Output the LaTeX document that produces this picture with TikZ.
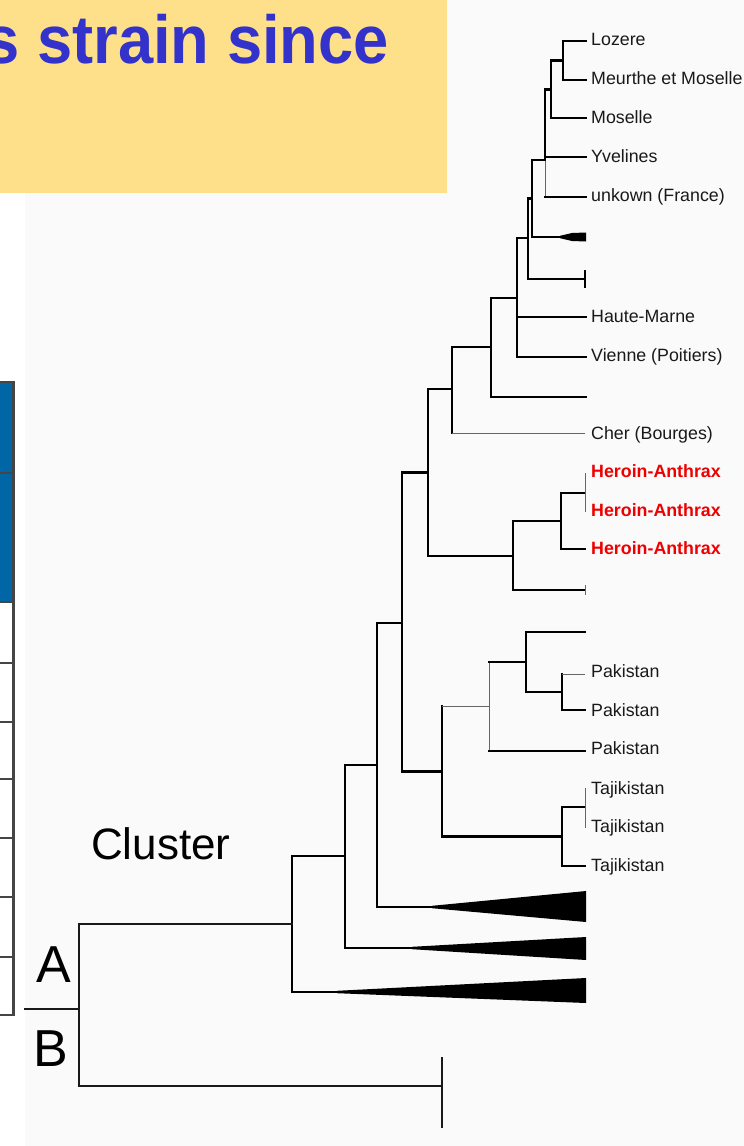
\documentclass[tikz,border=0pt]{standalone}
\usepackage{fontspec}
\setmainfont{Liberation Sans}
\usepackage{graphicx}
\definecolor{titleyellow}{HTML}{FFE08A}
\definecolor{titleblue}{HTML}{3333CC}
\definecolor{tableblue}{HTML}{0066A6}
\definecolor{tableborder}{HTML}{454545}
\definecolor{bgtree}{HTML}{FAFAFA}
\definecolor{heroinred}{HTML}{EE0000}
\begin{document}
\begin{tikzpicture}[x=1pt,y=-1pt,
  branch/.style={line width=2.4pt, black, line cap=rect},
  thinbranch/.style={line width=1pt, black!60},
  rootbranch/.style={line width=1.8pt, black!90, line cap=rect},
  clade/.style={fill=black, draw=none},
  leaflabel/.style={anchor=base west, inner sep=0pt, text=black!90, font=\fontsize{17.8}{20}\selectfont},
  heroin/.style={leaflabel, text=heroinred, font=\fontsize{17.8}{20}\selectfont\bfseries},
  bigletter/.style={anchor=base west, inner sep=0pt, font=\fontsize{52}{56}\selectfont},
  tablerule/.style={line width=2.2pt, tableborder}
]
\clip (0,0) rectangle (744,1146);
\useasboundingbox (0,0) rectangle (744,1146);
% backgrounds
\fill[white] (0,0) rectangle (744,1146);
\fill[bgtree] (25,0) rectangle (744,1146);
\fill[titleyellow] (0,0) rectangle (447,193);
\node[anchor=base east, inner sep=0pt, text=titleblue] (title) at (389,63)
  {\scalebox{0.93}[1]{\fontsize{68}{70}\selectfont\bfseries s strain since}};
% table fragment
\fill[tableblue] (0,382) rectangle (13.5,602);
\foreach \yy in {382,473,602,663,722,779,838,897,957,1015}
  \draw[tablerule] (0,\yy) -- (13.5,\yy);
\draw[tablerule] (13.5,381) -- (13.5,1016);
% ---------- tree coordinates ----------
\coordinate (L1) at (586,41);
\coordinate (L2) at (586,80);
\coordinate (n563) at (563,60.5);
\coordinate (L3) at (586,118);
\coordinate (n551) at (551,89.5);
\coordinate (L4) at (586,157);
\coordinate (L5) at (586,197);
\coordinate (n545) at (545,160);
\coordinate (c1) at (560,237);
\coordinate (n532) at (532,198.5);
\coordinate (k1) at (585,279);
\coordinate (n528) at (528,238);
\coordinate (L6) at (586,317);
\coordinate (L7) at (586,357);
\coordinate (n517) at (517,298);
\coordinate (L8) at (586,397);
\coordinate (n491) at (491,347);
\coordinate (L9) at (585,433);
\coordinate (n452) at (452,389);
\coordinate (h12) at (585,493);
\coordinate (h3) at (585,549);
\coordinate (n561) at (561,521);
\coordinate (k2) at (585,590);
\coordinate (n513) at (513,556);
\coordinate (n428) at (428,472.5);
\coordinate (L10) at (585,632);
\coordinate (p1) at (585,674);
\coordinate (p2) at (585,710);
\coordinate (n562p) at (562,692);
\coordinate (n526) at (526,662);
\coordinate (p3) at (585,751);
\coordinate (n489) at (489,706);
\coordinate (t12) at (585,807);
\coordinate (t3) at (585,866);
\coordinate (n562t) at (562,836.5);
\coordinate (n442) at (442,771.5);
\coordinate (n402) at (402,623);
\coordinate (c3) at (440,907);
\coordinate (n377) at (377,765);
\coordinate (c2) at (420,948);
\coordinate (n345) at (345,856);
\coordinate (c4) at (345,992);
\coordinate (n292) at (292,924);
\coordinate (bleaf) at (442,1086);
\coordinate (root) at (79,1009);
\coordinate (stub) at (25,1009);
% ---------- branches ----------
\draw[branch] (n563) |- (L1) (n563) |- (L2);
\draw[branch] (n551) |- (n563) (n551) |- (L3);
\draw[branch] (n545) |- (n551) (n545) |- (L4);
\draw[thinbranch] (n545) -- (n545|-L5);
\draw[branch] (n545|-L5) -- (L5);
\draw[branch] (n532) |- (n545) (n532) |- (c1);
\fill[clade] ([shift={(0,-1.2)}]c1) -- ([shift={(12,-4)}]c1) -- ([shift={(26,-4.5)}]c1) -- ([shift={(26,4.5)}]c1) -- ([shift={(12,4)}]c1) -- ([shift={(0,1.2)}]c1) -- cycle;
\draw[branch] (n528) |- (n532) (n528) |- (k1);
\draw[line width=1.3pt] ([shift={(0,-9)}]k1) -- ([shift={(0,9)}]k1);
\draw[branch] (n517) |- (n528) (n517) |- (L6) (n517) |- (L7);
\draw[branch] (n491) |- (n517) (n491) |- (L8);
\draw[branch] (n452) |- (n491) (n452) -- (n452|-L9);
\draw[thinbranch] (n452|-L9) -- (L9);
\draw[branch] (n561) |- (h12) (n561) |- (h3);
\draw[thinbranch] ([shift={(0,-20)}]h12) -- ([shift={(0,19)}]h12);
\draw[branch] (n513) |- (n561) (n513) |- (k2);
\draw[thinbranch] ([shift={(0,-5)}]k2) -- ([shift={(0,5)}]k2);
\draw[branch] (n428) |- (n452) (n428) |- (n513);
\draw[branch] (n562p) |- (p2) (n562p) -- (n562p|-p1);
\draw[thinbranch] (n562p|-p1) -- (p1);
\draw[branch] (n526) |- (L10) (n526) |- (n562p);
\draw[thinbranch] (n489|-n526) -- (n489|-p3);
\draw[branch] (n489|-n526) -- (n526) (n489|-p3) -- (p3);
\draw[branch] (n562t) |- (t12) (n562t) |- (t3);
\draw[thinbranch] ([shift={(0,-19)}]t12) -- ([shift={(0,21)}]t12);
\draw[branch] (n442) |- (n562t) (n442) -- (n442|-n489);
\draw[thinbranch] (n442|-n489) -- (n489);
\draw[branch] (n402) |- (n428) (n402) |- (n442);
\draw[branch] (n377) |- (n402) (n377) |- (c3);
\fill[clade] ([shift={(-8,-1.2)}]c3) -- ([shift={(146,-16)}]c3) -- ([shift={(146,15)}]c3) -- ([shift={(-8,1.2)}]c3) -- cycle;
\draw[branch] (n345) |- (n377) (n345) |- (c2);
\fill[clade] ([shift={(-8,-1.2)}]c2) -- ([shift={(166,-11)}]c2) -- ([shift={(166,12)}]c2) -- ([shift={(-8,1.2)}]c2) -- cycle;
\draw[branch] (n292) |- (n345) (n292) |- (c4);
\fill[clade] ([shift={(-8,-1.2)}]c4) -- ([shift={(241,-14)}]c4) -- ([shift={(241,11)}]c4) -- ([shift={(-8,1.2)}]c4) -- cycle;
\draw[rootbranch] (root) |- (n292) (root) |- (bleaf) (stub) -- (root);
\draw[rootbranch] ([shift={(0,-28)}]bleaf) -- ([shift={(0,41)}]bleaf);
% ---------- labels ----------
\node[leaflabel] (lozere) at (591,45.5) {Lozere};
\node[leaflabel] (meurthe) at (591,84) {Meurthe et Moselle};
\node[leaflabel] (moselle) at (591,123) {Moselle};
\node[leaflabel] (yvelines) at (591,162) {Yvelines};
\node[leaflabel] (unkown) at (591,201) {unkown (France)};
\node[leaflabel] (hautemarne) at (591,322) {Haute-Marne};
\node[leaflabel] (vienne) at (591,361.5) {Vienne (Poitiers)};
\node[leaflabel] (cher) at (591,439.5) {Cher (Bourges)};
\node[heroin] (her1) at (591,477.5) {Heroin-Anthrax};
\node[heroin] (her2) at (591,516) {Heroin-Anthrax};
\node[heroin] (her3) at (591,554.5) {Heroin-Anthrax};
\node[leaflabel] (pak1) at (591,677.5) {Pakistan};
\node[leaflabel] (pak2) at (591,716) {Pakistan};
\node[leaflabel] (pak3) at (591,754.5) {Pakistan};
\node[leaflabel] (taj1) at (591,794) {Tajikistan};
\node[leaflabel] (taj2) at (591,832.5) {Tajikistan};
\node[leaflabel] (taj3) at (591,871) {Tajikistan};
\node[anchor=base west, inner sep=0pt, font=\fontsize{44}{46}\selectfont] (cluster) at (91,859) {Cluster};
\node[bigletter] (clA) at (36,982) {A};
\node[bigletter] (clB) at (33,1066) {B};
\end{tikzpicture}
\end{document}
